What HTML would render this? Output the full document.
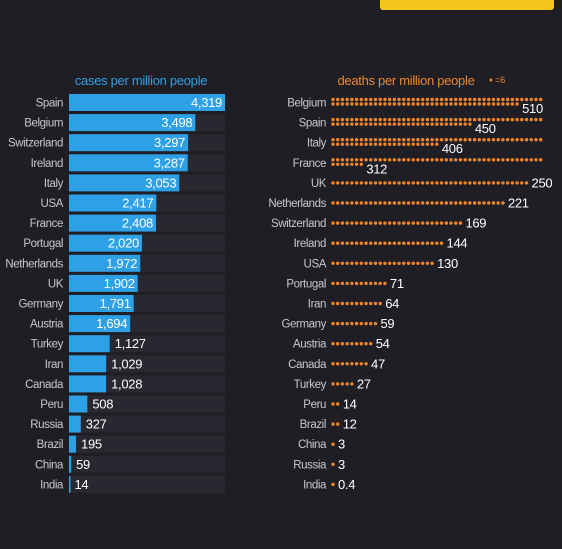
<!DOCTYPE html>
<html><head><meta charset="utf-8"><style>
body{margin:0;background:#201e25;width:562px;height:549px;overflow:hidden;font-family:"Liberation Sans",sans-serif}
svg{display:block}
</style></head><body>
<svg width="562" height="549">
<rect x="380" y="-6" width="174" height="16" rx="3" fill="#f5c51d"/>
<text x="141" y="85" text-anchor="middle" fill="#2ea1e6" font-size="13" letter-spacing="-0.3">cases per million people</text>
<text x="406" y="85" text-anchor="middle" fill="#f0862a" font-size="13" letter-spacing="-0.3">deaths per million people</text>
<g><circle cx="491" cy="80" r="1.5" fill="#f0862a"/><text x="495" y="83" fill="#f0862a" font-size="9">=6</text></g>
<g id="left"></g><g id="right"></g>
</svg>
<script>
const casesCountries=["Spain","Belgium","Switzerland","Ireland","Italy","USA","France","Portugal","Netherlands","UK","Germany","Austria","Turkey","Iran","Canada","Peru","Russia","Brazil","China","India"];
const casesValues=[4319,3498,3297,3287,3053,2417,2408,2020,1972,1902,1791,1694,1127,1029,1028,508,327,195,59,14];
const deathCountries=["Belgium","Spain","Italy","France","UK","Netherlands","Switzerland","Ireland","USA","Portugal","Iran","Germany","Austria","Canada","Turkey","Peru","Brazil","China","Russia","India"];
const deathValues=[510,450,406,312,250,221,169,144,130,71,64,59,54,47,27,14,12,3,3,0.4];
const NS="http://www.w3.org/2000/svg";
function mk(t,a,p){const e=document.createElementNS(NS,t);for(const k in a)e.setAttribute(k,a[k]);p.appendChild(e);return e;}
const rowY=i=>102+i*20.1;
const xC=v=>v/4319*156;
const L=document.getElementById('left');
casesCountries.forEach((c,i)=>{
 const y=rowY(i),v=casesValues[i];
 const g=mk('g',{},L);
 
 
 mk('rect',{x:69,y:y-8,width:156,height:17,fill:'#29272f'},g);
 const b=mk('rect',{x:69,y:y-8,width:Math.max(1.5,xC(v)),height:17,fill:'#2ea1e6'},g);
 
 
 const t=mk('text',{x:63,y:y+4.5,'text-anchor':'end',fill:'#c8c8c8','font-size':11.5,'letter-spacing':-0.4},g);t.textContent=c;
 const s=v.toLocaleString('en-US');
 const inside=v>1500;
 const vt=mk('text',{x:inside?69+xC(v)-3:69+xC(v)+5,y:y+5,'text-anchor':inside?'end':'start',fill:'#fff','font-size':13,'letter-spacing':-0.3},g);vt.textContent=s;
});
const R=document.getElementById('right');
const perRow=45,dx=4.72,x0=333;
deathCountries.forEach((c,i)=>{
 const y=rowY(i),v=deathValues[i];
 const g=mk('g',{},R);
 
 
 const t=mk('text',{x:326,y:y+4.5,'text-anchor':'end',fill:'#c8c8c8','font-size':11.5,'letter-spacing':-0.4},g);t.textContent=c;
 const n=Math.max(1,Math.round(v/6));
 const two=n>perRow;
 let lastX=x0;
 for(let k=0;k<n;k++){
  const r=Math.floor(k/perRow),col=k%perRow;
  const cx=x0+col*dx,cy=two?(y-2.5+r*4.5):y+0.5;
  const d=mk('circle',{cx:cx,cy:cy,r:1.7,fill:'#f0862a'},g);
  
  
  lastX=cx;
 }
 const s=v<1?String(v):v.toLocaleString('en-US');
 const vt=mk('text',{x:lastX+5,y:two?y+11:y+5,fill:'#fff','font-size':13,'letter-spacing':-0.3},g);vt.textContent=s;
});
</script>
</body></html>
